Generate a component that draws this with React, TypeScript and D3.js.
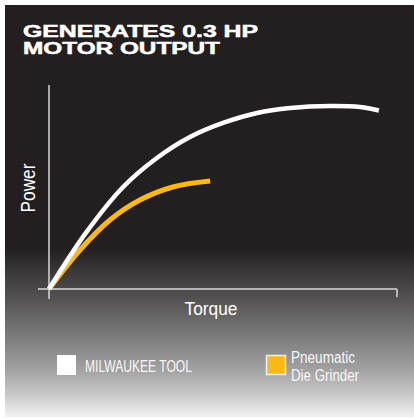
import React from "react";
import * as d3 from "d3";

const torqueMilwaukee = [0, 10.6, 21.3, 31.0, 40.5, 50.0, 59.8, 69.3, 80.7, 89.4, 94.8];
const powerMilwaukee = [0, 27.5, 50.0, 64.2, 74.5, 81.4, 86.3, 88.7, 89.7, 89.2, 87.5];
const torquePneumatic = [0, 8.9, 17.5, 26.1, 35.6, 46.3];
const powerPneumatic = [0, 19.1, 33.8, 43.6, 50.0, 52.9];
const titleLines = ["GENERATES 0.3 HP", "MOTOR OUTPUT"];
const seriesNames = ["MILWAUKEE TOOL", "Pneumatic", "Die Grinder"];
const xLabel = "Torque";
const yLabel = "Power";

const W = 414;
const H = 418;
const WHITE = "#ffffff";
const ORANGE = "#fdb913";
const AXIS = "#d9d9d9";
const FONT = "'Liberation Sans', Arial, sans-serif";

export default function App() {
  const x = d3.scaleLinear().domain([0, 100]).range([49, 397]);
  const y = d3.scaleLinear().domain([0, 100]).range([289, 85]);
  const line = d3
    .line<[number, number]>()
    .x((d) => x(d[0]))
    .y((d) => y(d[1]))
    .curve(d3.curveCatmullRom.alpha(0.5));
  const wData = torqueMilwaukee.map((t, i) => [t, powerMilwaukee[i]] as [number, number]);
  const oData = torquePneumatic.map((t, i) => [t, powerPneumatic[i]] as [number, number]);

  return (
    <svg
      width={W}
      height={H}
      style={{ position: "absolute", left: 0, top: 0, background: "#ffffff" }}
    >
      <defs>
        <linearGradient id="bg" gradientUnits="userSpaceOnUse" x1="0" y1="5" x2="0" y2="417">
          <stop offset={(248 - 5) / 412} stopColor="#231f20" />
          <stop offset={(270 - 5) / 412} stopColor="#383637" />
          <stop offset={(300 - 5) / 412} stopColor="#555354" />
          <stop offset={(340 - 5) / 412} stopColor="#807f7f" />
          <stop offset={(370 - 5) / 412} stopColor="#a3a2a2" />
          <stop offset={(395 - 5) / 412} stopColor="#c9c9c9" />
          <stop offset={1} stopColor="#f3f3f3" />
        </linearGradient>
      </defs>
      <rect x={5} y={5} width={409} height={412} fill="url(#bg)" />

      {titleLines.map((t, i) => (
        <text
          key={t}
          x={23}
          y={37 + i * 17}
          fill={WHITE}
          stroke={WHITE}
          strokeWidth={0.5}
          fontFamily={FONT}
          fontWeight={900}
          fontSize={16}
          textLength={i === 0 ? 235 : 197}
          lengthAdjust="spacingAndGlyphs"
        >
          {t}
        </text>
      ))}

      {/* axes */}
      <line x1={x(0)} y1={85} x2={x(0)} y2={299} stroke={AXIS} strokeWidth={1.5} />
      <line x1={38} y1={y(0)} x2={x(100)} y2={y(0)} stroke={AXIS} strokeWidth={1.5} />
      <line x1={x(100)} y1={y(0)} x2={x(100)} y2={297} stroke={AXIS} strokeWidth={1.5} />

      {/* curves */}
      <path d={line(oData) || ""} fill="none" stroke={ORANGE} strokeWidth={5} />
      <path d={line(wData) || ""} fill="none" stroke={WHITE} strokeWidth={4.5} />

      {/* axis labels */}
      <text
        x={211}
        y={315}
        textAnchor="middle"
        fill={WHITE}
        fontFamily={FONT}
        fontSize={19}
        textLength={53}
        lengthAdjust="spacingAndGlyphs"
      >
        {xLabel}
      </text>
      <text
        transform={`translate(35,188) rotate(-90)`}
        textAnchor="middle"
        fill={WHITE}
        fontFamily={FONT}
        fontSize={20}
        textLength={49}
        lengthAdjust="spacingAndGlyphs"
      >
        {yLabel}
      </text>

      {/* legend */}
      <rect x={57} y={355} width={19} height={20} fill={WHITE} />
      <text
        x={85}
        y={372}
        fill="#f7f7f7"
        fontFamily={FONT}
        fontSize={16}
        textLength={107}
        lengthAdjust="spacingAndGlyphs"
      >
        {seriesNames[0]}
      </text>
      <rect x={266.5} y={355.5} width={19} height={19} fill={ORANGE} stroke="#f0f0f0" strokeWidth={1.5} />
      <text
        x={291}
        y={363}
        fill="#f7f7f7"
        fontFamily={FONT}
        fontSize={16}
        textLength={64}
        lengthAdjust="spacingAndGlyphs"
      >
        {seriesNames[1]}
      </text>
      <text
        x={291}
        y={381}
        fill="#f7f7f7"
        fontFamily={FONT}
        fontSize={16}
        textLength={68}
        lengthAdjust="spacingAndGlyphs"
      >
        {seriesNames[2]}
      </text>
    </svg>
  );
}
